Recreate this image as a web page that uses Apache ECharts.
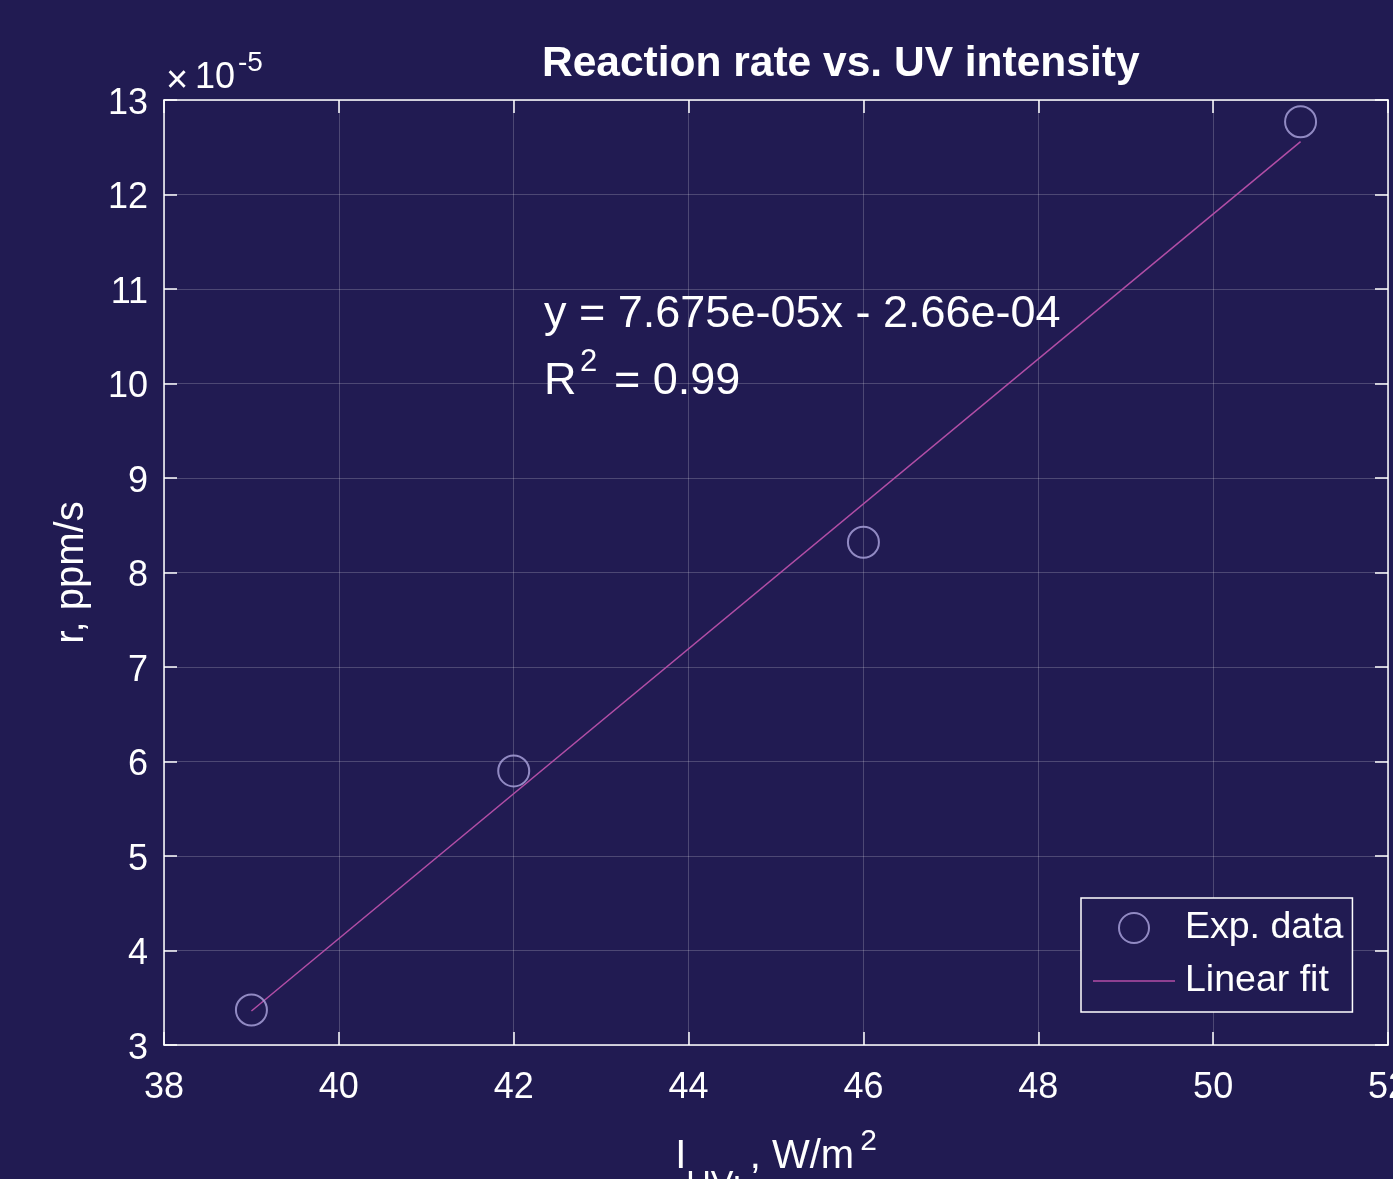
<!DOCTYPE html>
<html>
<head>
<meta charset="utf-8">
<script src="https://cdn.jsdelivr.net/npm/echarts@6/dist/echarts.min.js"></script>
<style>
html,body{margin:0;padding:0;background:#211b52;overflow:hidden;}
#chart{width:1393px;height:1179px;}
</style>
</head>
<body>
<div id="chart"></div>
<script>
// Values in units of 1e-5 ppm/s (axis shows ×10^-5)
var expX = [39, 42, 46, 51];
var expY = [3.37, 5.90, 8.32, 12.77];
var fitX = [39, 51];
var fitY = [3.36, 12.56];
var xTicks = [38, 40, 42, 44, 46, 48, 50, 52];
var yTicks = [3, 4, 5, 6, 7, 8, 9, 10, 11, 12, 13];
var titleText = 'Reaction rate vs. UV intensity';
var eqText = 'y = 7.675e-05x - 2.66e-04';
var r2Text = '= 0.99';
var seriesNames = ['Exp. data', 'Linear fit'];

var FONT = '"Liberation Sans", Arial, Helvetica, sans-serif';
var BG = '#211b52';
var MARK = '#aea6e0';
var FIT = '#b24ea6';

var chart = echarts.init(document.getElementById('chart'), null, {renderer: 'canvas'});

function pairs(xs, ys){ return xs.map(function(x,i){ return [x, ys[i]]; }); }

var baseAxis = {
  axisLine: {show: true, onZero: false, lineStyle: {color: '#ffffff', width: 1.5}},
  axisTick: {show: true, inside: true, length: 13, lineStyle: {color: '#ffffff', width: 1.5}},
  splitLine: {show: false}
};

var option = {
  backgroundColor: BG,
  animation: false,
  title: {
    text: titleText,
    left: 537,
    top: 38,
    textStyle: {color: '#ffffff', fontFamily: FONT, fontWeight: 'bold', fontSize: 42.5}
  },
  grid: {left: 164, right: 5, top: 100, bottom: 134, containLabel: false, outerBoundsMode: 'none'},
  xAxis: [
    Object.assign({}, baseAxis, {
      type: 'value', position: 'bottom', min: xTicks[0], max: xTicks[xTicks.length-1], interval: 2,
      axisLabel: {color: '#ffffff', fontFamily: FONT, fontSize: 36, margin: 25, showMaxLabel: true, showMinLabel: true, hideOverlap: false},
      splitLine: {show: true, lineStyle: {color: 'rgba(255,255,255,0.2)', width: 1}},
      name: '{m|I}{s|UV:}{m|, W/m}{p|2}',
      nameLocation: 'middle',
      nameGap: 67,
      nameTextStyle: {
        color: '#ffffff', fontFamily: FONT,
        rich: {
          m: {fontSize: 40, lineHeight: 90, color: '#ffffff', fontFamily: FONT, verticalAlign: 'middle'},
          s: {fontSize: 34, lineHeight: 46, color: '#ffffff', fontFamily: FONT, verticalAlign: 'bottom', padding: [0, 8, 0, 0]},
          p: {fontSize: 30, lineHeight: 62, color: '#ffffff', fontFamily: FONT, verticalAlign: 'top', padding: [15, 0, 0, 6]}
        }
      }
    }),
    Object.assign({}, baseAxis, {
      type: 'value', position: 'top', min: xTicks[0], max: xTicks[xTicks.length-1], interval: 2,
      axisLabel: {show: false}
    })
  ],
  yAxis: [
    Object.assign({}, baseAxis, {
      type: 'value', position: 'left', min: yTicks[0], max: yTicks[yTicks.length-1], interval: 1,
      axisLabel: {
        color: '#ffffff', fontFamily: FONT, fontSize: 36, margin: 16,
        formatter: '{v|{value}}',
        rich: {v: {color: '#ffffff', fontFamily: FONT, fontSize: 36, lineHeight: 36, padding: [8, 0, 0, 0]}}
      },
      splitLine: {show: true, lineStyle: {color: 'rgba(255,255,255,0.2)', width: 1}},
      name: 'r, ppm/s',
      nameLocation: 'middle',
      nameGap: 72,
      nameTextStyle: {color: '#ffffff', fontFamily: FONT, fontSize: 40}
    }),
    Object.assign({}, baseAxis, {
      type: 'value', position: 'right', min: yTicks[0], max: yTicks[yTicks.length-1], interval: 1,
      axisLabel: {show: false}
    })
  ],
  legend: {
    orient: 'vertical',
    left: 1081,
    top: 898,
    padding: [11, 9, 12, 12],
    itemGap: 15,
    itemWidth: 82,
    itemHeight: 30,
    borderColor: '#ffffff',
    borderWidth: 1.5,
    backgroundColor: BG,
    selectedMode: false,
    textStyle: {color: '#ffffff', fontFamily: FONT, fontSize: 37.5, padding: [0, 0, 0, 5]},
    data: [
      {name: seriesNames[0], icon: 'circle', itemStyle: {color: 'transparent', borderColor: MARK, borderWidth: 2}},
      {name: seriesNames[1],
       icon: 'path://M0,0h0.01v0.01h-0.01z M0,14.25h82v1.5h-82z M81.99,29.99h0.01v0.01h-0.01z',
       itemStyle: {color: FIT, borderWidth: 0}}
    ]
  },
  graphic: [
    {type: 'text', x: 166, y: 82, style: {text: '\u00d7', fill: '#ffffff', font: '38px ' + FONT, verticalAlign: 'middle'}},
    {type: 'text', x: 195, y: 78, style: {text: '10', fill: '#ffffff', font: '36px ' + FONT, verticalAlign: 'middle'}},
    {type: 'text', x: 238, y: 63, style: {text: '-5', fill: '#ffffff', font: '28px ' + FONT, verticalAlign: 'middle'}},
    {type: 'text', x: 544, y: 315, style: {text: eqText, fill: '#ffffff', font: '45px ' + FONT, verticalAlign: 'middle'}},
    {type: 'text', x: 544, y: 382, style: {text: 'R', fill: '#ffffff', font: '45px ' + FONT, verticalAlign: 'middle'}},
    {type: 'text', x: 580, y: 362, style: {text: '2', fill: '#ffffff', font: '31px ' + FONT, verticalAlign: 'middle'}},
    {type: 'text', x: 614, y: 382, style: {text: r2Text, fill: '#ffffff', font: '45px ' + FONT, verticalAlign: 'middle'}}
  ],
  series: [
    {
      name: seriesNames[1],
      type: 'line',
      xAxisIndex: 0, yAxisIndex: 0,
      data: pairs(fitX, fitY),
      symbol: 'none',
      showSymbol: false,
      lineStyle: {color: FIT, width: 1.5},
      itemStyle: {color: FIT},
      z: 2
    },
    {
      name: seriesNames[0],
      type: 'scatter',
      xAxisIndex: 0, yAxisIndex: 0,
      data: pairs(expX, expY),
      symbol: 'circle',
      symbolSize: 31,
      itemStyle: {color: 'transparent', borderColor: MARK, borderWidth: 2},
      z: 3
    }
  ]
};
chart.setOption(option);
</script>
</body>
</html>
